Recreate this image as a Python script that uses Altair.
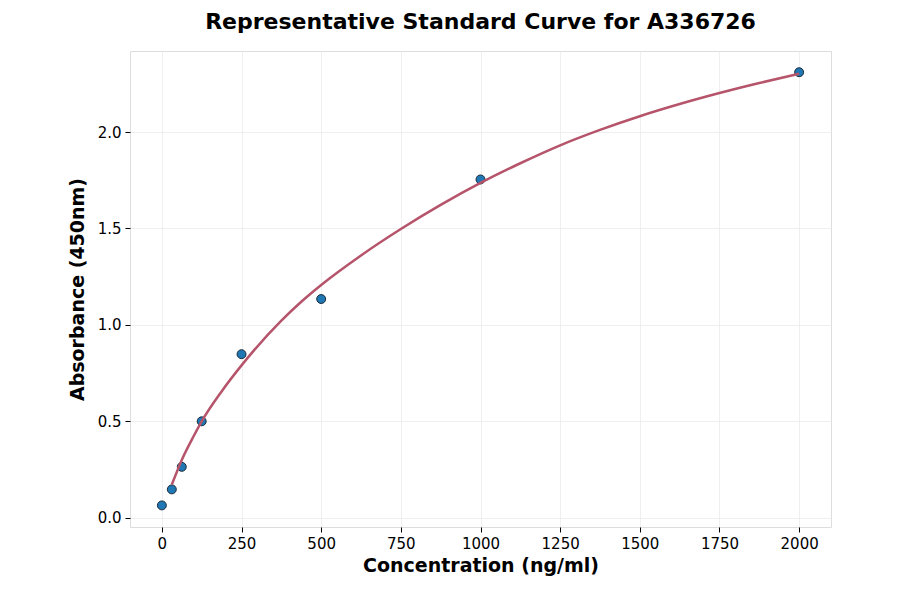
import altair as alt
import pandas as pd

# Standard points
conc = [0, 31.25, 62.5, 125, 250, 500, 1000, 2000]
absorb = [0.064, 0.147, 0.264, 0.50, 0.848, 1.134, 1.754, 2.31]

# Fitted curve
curve_x = [31.25, 62.5, 100, 125, 187.5, 250, 375, 437.5, 500, 625, 750, 875, 1000,
           1125, 1250, 1375, 1500, 1625, 1750, 1875, 2000]
curve_y = [0.172, 0.30, 0.424, 0.50, 0.655, 0.79, 1.022, 1.12, 1.207, 1.36, 1.497, 1.622, 1.736,
           1.838, 1.931, 2.011, 2.082, 2.145, 2.202, 2.254, 2.302]

pts = pd.DataFrame({"conc": conc, "abs": absorb})
crv = pd.DataFrame({"conc": curve_x, "abs": curve_y})

FONT = "DejaVu Sans"

xscale = alt.Scale(domain=[-100, 2100], nice=False, zero=False)
yscale = alt.Scale(domain=[-0.048, 2.42], nice=False, zero=False)

xaxis = alt.Axis(
    title="Concentration (ng/ml)",
    values=[0, 250, 500, 750, 1000, 1250, 1500, 1750, 2000],
    format="d",
    grid=True, gridColor="#ebebeb", gridWidth=0.8,
    domain=False, ticks=True, tickColor="black", tickSize=5, tickWidth=1,
    labelFont=FONT, labelFontSize=15, labelColor="black", labelPadding=4,
    titleFont=FONT, titleFontSize=19, titleFontWeight="bold", titleColor="black",
    titlePadding=5,
)
yaxis = alt.Axis(
    title="Absorbance (450nm)",
    values=[0, 0.5, 1.0, 1.5, 2.0],
    format=".1f",
    grid=True, gridColor="#ebebeb", gridWidth=0.8,
    domain=False, ticks=True, tickColor="black", tickSize=5, tickWidth=1,
    labelFont=FONT, labelFontSize=15, labelColor="black", labelPadding=4,
    titleFont=FONT, titleFontSize=19, titleFontWeight="bold", titleColor="black",
    titlePadding=10,
)

points = alt.Chart(pts).mark_circle(
    size=80, color="#1f77b4", opacity=1, stroke="#1a2a3a", strokeWidth=1
).encode(
    x=alt.X("conc:Q", scale=xscale, axis=xaxis),
    y=alt.Y("abs:Q", scale=yscale, axis=yaxis),
)

line = alt.Chart(crv).mark_line(
    color="#b5546a", strokeWidth=2.5, interpolate="monotone"
).encode(
    x=alt.X("conc:Q", scale=xscale),
    y=alt.Y("abs:Q", scale=yscale),
)

chart = alt.layer(points, line).properties(
    width=701,
    height=476,
    title=alt.TitleParams(
        "Representative Standard Curve for A336726",
        font=FONT, fontSize=22, fontWeight="bold", color="black",
        anchor="middle", offset=17,
    ),
    autosize=alt.AutoSizeParams(type="none"),
    padding={"left": 122, "top": 43, "right": 60, "bottom": 60},
).configure_view(
    stroke="black", strokeWidth=1.3
).configure(background="white")

chart.save("out.html", embed_options={"renderer": "svg", "actions": False})
